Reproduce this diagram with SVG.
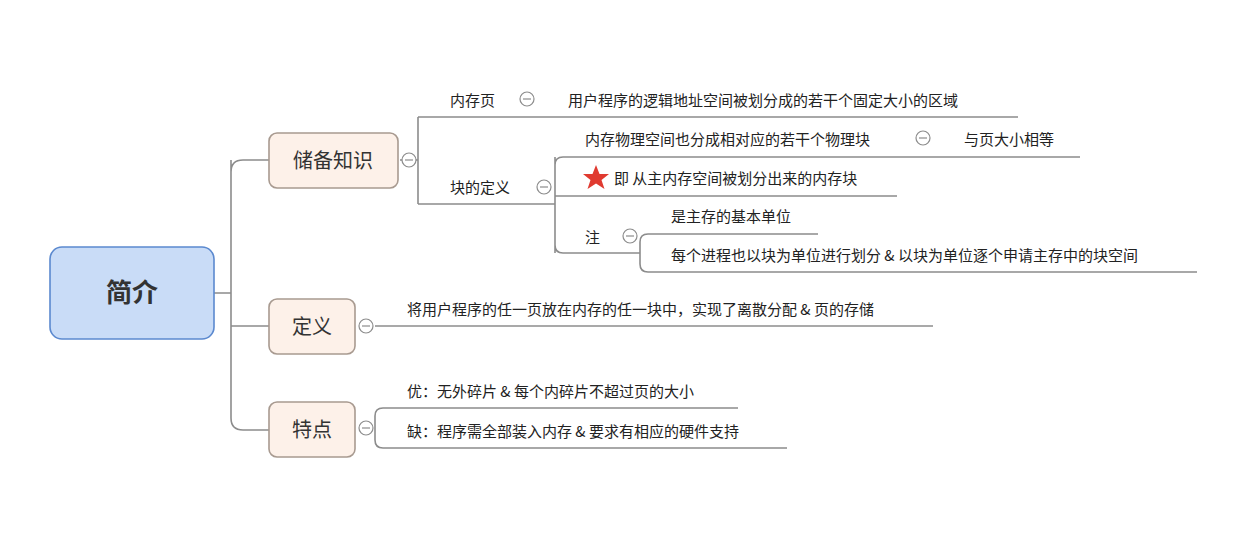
<svg xmlns="http://www.w3.org/2000/svg" width="1240" height="546" viewBox="0 0 1240 546">
<style>
.c{fill:none;stroke:#8c8c8c;stroke-width:1.6}
.t{font-family:"Noto Sans CJK SC","Liberation Sans",sans-serif;font-size:15px;fill:#222}
.n{font-family:"Noto Sans CJK SC",sans-serif;font-size:20px;fill:#333}
.box{fill:#fdf1e9;stroke:#a89a90;stroke-width:1.6}
.col circle{fill:#fff;stroke:#8c8c8c;stroke-width:1.2}
.col line{stroke:#8c8c8c;stroke-width:1.2}
</style>
<rect width="1240" height="546" fill="#fff"/>
<g id="connectors">
<path class="c" d="M214 293H231M231 172Q231 160 243 160H269M231 160V418Q231 430 243 430H269M231 326H269"/>
<path class="c" d="M400 160H418M418 117V204M418 117H1018M418 204H555"/>
<path class="c" d="M555 204V165Q555 157 563 157H1080M555 204V245Q555 253 563 253H640M555 196H897M555 157V253"/>
<path class="c" d="M640 253V242Q640 234 648 234H818M640 253V264Q640 272 648 272H1197"/>
<path class="c" d="M375 326H933"/>
<path class="c" d="M375 428V416Q375 408 383 408H738M375 428V440Q375 448 383 448H787"/>
</g>
<g id="n-root"><rect x="50" y="247" width="164" height="92" rx="12" fill="#c9dcf7" stroke="#5b89cf" stroke-width="1.6"/><text x="132" y="302" text-anchor="middle" font-family="Noto Sans CJK SC,sans-serif" font-size="26" font-weight="bold" fill="#333">简介</text></g>
<g id="n-chubei"><rect class="box" x="269" y="133" width="129" height="55" rx="8"/><text class="n" x="333" y="168" text-anchor="middle">储备知识</text></g>
<g id="n-dingyi"><rect class="box" x="269" y="299" width="86" height="55" rx="8"/><text class="n" x="312" y="334" text-anchor="middle">定义</text></g>
<g id="n-tedian"><rect class="box" x="269" y="402" width="86" height="55" rx="8"/><text class="n" x="312" y="437" text-anchor="middle">特点</text></g>
<g class="col">
<g><circle cx="409" cy="160" r="7"/><line x1="405" y1="160" x2="413" y2="160"/></g>
<g><circle cx="527" cy="99" r="7"/><line x1="523" y1="99" x2="531" y2="99"/></g>
<g><circle cx="544" cy="187" r="7"/><line x1="540" y1="187" x2="548" y2="187"/></g>
<g><circle cx="923" cy="138" r="7"/><line x1="919" y1="138" x2="927" y2="138"/></g>
<g><circle cx="630" cy="236" r="7"/><line x1="626" y1="236" x2="634" y2="236"/></g>
<g><circle cx="366" cy="326" r="7"/><line x1="362" y1="326" x2="370" y2="326"/></g>
<g><circle cx="366" cy="428" r="7"/><line x1="362" y1="428" x2="370" y2="428"/></g>
</g>
<g id="n-neicunye"><text class="t" x="450" y="106">内存页</text></g>
<g id="n-neicunye-d"><text class="t" x="568" y="106">用户程序的逻辑地址空间被划分成的若干个固定大小的区域</text></g>
<g id="n-kuai"><text class="t" x="450" y="193">块的定义</text></g>
<g id="n-wuli"><text class="t" x="585" y="145">内存物理空间也分成相对应的若干个物理块</text></g>
<g id="n-deng"><text class="t" x="964" y="145">与页大小相等</text></g>
<g id="n-ji"><polygon points="596,165 599.5,174 609,174 601.5,180 604.5,189 596,183.5 587.5,189 590.5,180 583,174 592.5,174" fill="#e03a30"/><text class="t" x="614" y="184">即 从主内存空间被划分出来的内存块</text></g>
<g id="n-zhu"><text class="t" x="585" y="243">注</text></g>
<g id="n-zhu1"><text class="t" x="671" y="222">是主存的基本单位</text></g>
<g id="n-zhu2"><text class="t" x="671" y="261">每个进程也以块为单位进行划分 &amp; 以块为单位逐个申请主存中的块空间</text></g>
<g id="n-dingyi-d"><text class="t" x="407" y="315">将用户程序的任一页放在内存的任一块中，实现了离散分配 &amp; 页的存储</text></g>
<g id="n-you"><text class="t" x="407" y="397">优：无外碎片 &amp; 每个内碎片不超过页的大小</text></g>
<g id="n-que"><text class="t" x="407" y="437">缺：程序需全部装入内存 &amp; 要求有相应的硬件支持</text></g>
</svg>
